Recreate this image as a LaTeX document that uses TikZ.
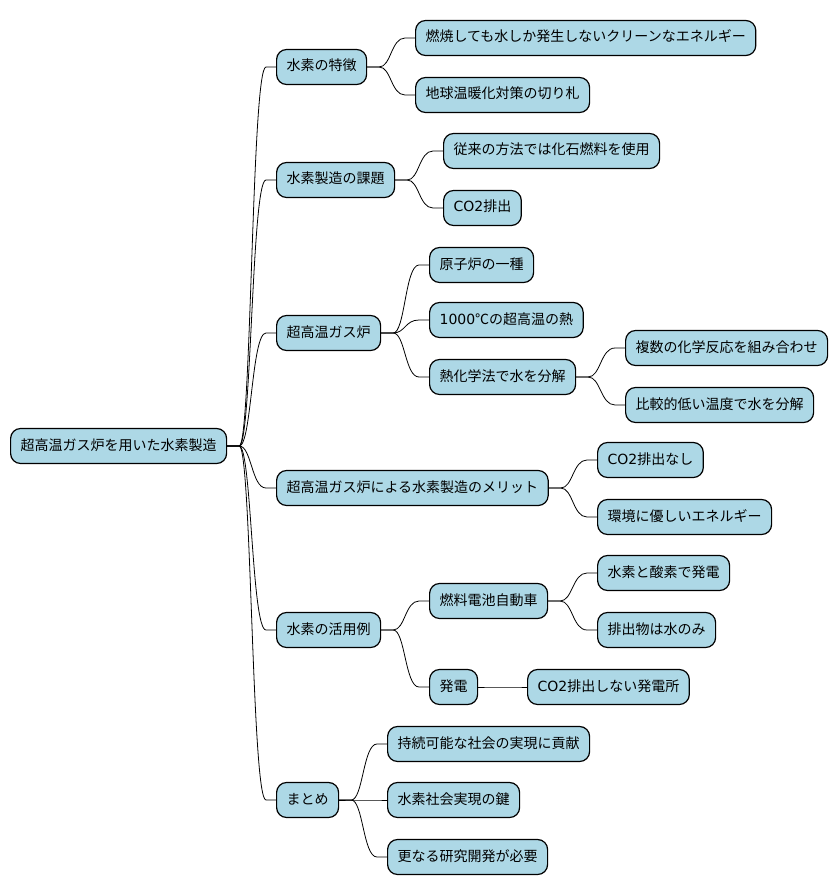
\documentclass[tikz,border=0pt]{standalone}
\usepackage{fontspec}
\setmainfont{Noto Sans CJK JP}
\newfontfamily\latn{DejaVu Sans}
\usetikzlibrary{calc}
\definecolor{mindblue}{HTML}{ADD8E6}

\begin{document}
\begin{tikzpicture}[x=1pt,y=-1pt,
  box/.style={draw=black,line width=1.2pt,fill=mindblue,rounded corners=10pt,anchor=west,
    inner xsep=10pt,inner ysep=0pt,minimum height=35pt,text height=11pt,text depth=3pt,
    font=\fontsize{14}{16}\selectfont},
  link/.style={line width=0.8pt}]
  \useasboundingbox (0,0) rectangle (838,893);
  % root and first level
  \node[box] (root) at (10,446) {超高温ガス炉を用いた水素製造};
  \node[box] (feature) at (276,67) {水素の特徴};
  \node[box] (issue) at (276,180) {水素製造の課題};
  \node[box] (htgr) at (276,333) {超高温ガス炉};
  \node[box] (merit) at (276,488) {超高温ガス炉による水素製造のメリット};
  \node[box] (usage) at (276,630) {水素の活用例};
  \node[box] (summary) at (276,800) {まとめ};
  % second and third level
  \node[box] (feature1) at (415,38) {燃焼しても水しか発生しないクリーンなエネルギー};
  \node[box] (feature2) at (415,95) {地球温暖化対策の切り札};
  \node[box] (issue1) at (443,151) {従来の方法では化石燃料を使用};
  \node[box] (issue2) at (443,208) {{\latn CO2}排出};
  \node[box] (htgr1) at (429,265) {原子炉の一種};
  \node[box] (htgr2) at (429,320) {{\latn 1000}℃の超高温の熱};
  \node[box] (htgr3) at (429,377) {熱化学法で水を分解};
  \node[box] (htgr31) at (625,348) {複数の化学反応を組み合わせ};
  \node[box] (htgr32) at (625,405) {比較的低い温度で水を分解};
  \node[box] (merit1) at (597,460) {{\latn CO2}排出なし};
  \node[box] (merit2) at (597,517) {環境に優しいエネルギー};
  \node[box] (usage1) at (429,601) {燃料電池自動車};
  \node[box] (usage11) at (597,573) {水素と酸素で発電};
  \node[box] (usage12) at (597,630) {排出物は水のみ};
  \node[box] (usage2) at (429,687) {発電};
  \node[box] (usage21) at (527,687) {{\latn CO2}排出しない発電所};
  \node[box] (summary1) at (387,744) {持続可能な社会の実現に貢献};
  \node[box] (summary2) at (387,800) {水素社会実現の鍵};
  \node[box] (summary3) at (387,857) {更なる研究開発が必要};
  % connectors
  \foreach \pa/\ch in {root/feature,root/issue,root/htgr,root/merit,root/usage,root/summary,
      feature/feature1,feature/feature2,issue/issue1,issue/issue2,
      htgr/htgr1,htgr/htgr2,htgr/htgr3,htgr3/htgr31,htgr3/htgr32,
      merit/merit1,merit/merit2,usage/usage1,usage/usage2,
      usage1/usage11,usage1/usage12,usage2/usage21,
      summary/summary1,summary/summary2,summary/summary3}
    \draw[link] let \p1=(\pa.east), \p2=(\ch.west) in
      (\p1) -- (\x1+12pt,\y1) .. controls ({(\x1+\x2)/2},\y1) and ({(\x1+\x2)/2},\y2) ..
      (\x2-10pt,\y2) -- (\p2);
\end{tikzpicture}
\end{document}
